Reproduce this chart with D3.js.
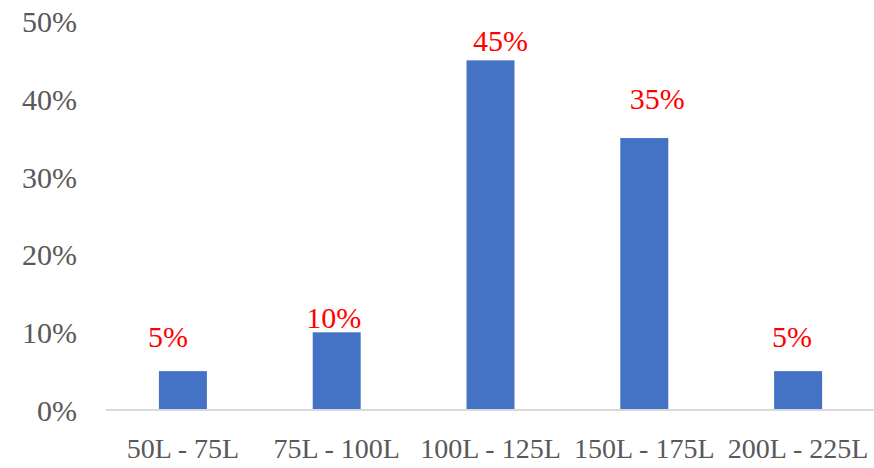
<!DOCTYPE html>
<html>
<head>
<meta charset="utf-8">
<script src="https://cdn.jsdelivr.net/npm/d3@7"></script>
<style>
  html, body { margin: 0; padding: 0; background: #fff; }
  svg { display: block; }
  text { font-family: "Liberation Serif", "DejaVu Serif", serif; }
</style>
</head>
<body>
<svg id="chart" width="874" height="468"></svg>
<script>
// Share of households by monthly water use band
const categories = ["50L - 75L", "75L - 100L", "100L - 125L", "150L - 175L", "200L - 225L"];
const shares = [5, 10, 45, 35, 5];
const yTicks = [0, 10, 20, 30, 40, 50];

const svg = d3.select("#chart");
const W = 874, H = 468;
const plotLeft = 106, plotRight = 875, plotTop = 21.5, plotBottom = 410;
const fontStack = "'Liberation Serif', 'DejaVu Serif', serif";

const x = d3.scaleBand().domain(categories).range([plotLeft, plotRight]).paddingInner(0.688).paddingOuter(0.344);
const y = d3.scaleLinear().domain([0, 50]).range([plotBottom, plotTop]);

// value axis labels (no axis line, no gridlines)
const yAxis = d3.axisLeft(y).tickValues(yTicks).tickFormat(d => d + "%").tickSize(0).tickPadding(29);
const gy = svg.append("g").attr("transform", `translate(${plotLeft},0)`).call(yAxis);
gy.select(".domain").remove();
gy.selectAll("text")
  .attr("fill", "#595959")
  .attr("font-size", 30)
  .attr("dy", "0.34em")
  .style("font-family", fontStack);

// bars
svg.append("g").selectAll("rect")
  .data(categories)
  .join("rect")
  .attr("x", d => x(d))
  .attr("width", x.bandwidth())
  .attr("y", (d, i) => y(shares[i]))
  .attr("height", (d, i) => y(0) - y(shares[i]))
  .attr("fill", "#4472C4");

// category axis
const xAxis = d3.axisBottom(x).tickSize(0).tickPadding(0);
const gx = svg.append("g").attr("transform", `translate(0,${plotBottom})`).call(xAxis);
gx.select(".domain").attr("stroke", "#D9D9D9").attr("stroke-width", 2)
  .attr("d", `M${plotLeft},0H${W}`);
gx.selectAll("text")
  .attr("fill", "#595959")
  .attr("font-size", 28)
  .attr("y", 48)
  .attr("dy", 0)
  .style("font-family", fontStack);

// data labels, nudged individually as placed on the original slide
const labelNudge = [[-15, 24], [-3, 4], [10, 9], [13, 29], [-6, 24]];
svg.append("g").selectAll("text")
  .data(categories)
  .join("text")
  .attr("x", (d, i) => x(d) + x.bandwidth() / 2 + labelNudge[i][0])
  .attr("y", (d, i) => y(shares[i]) - labelNudge[i][1])
  .attr("text-anchor", "middle")
  .attr("fill", "#FF0000")
  .attr("font-size", 30)
  .style("font-family", fontStack)
  .text((d, i) => shares[i] + "%");
</script>
</body>
</html>
